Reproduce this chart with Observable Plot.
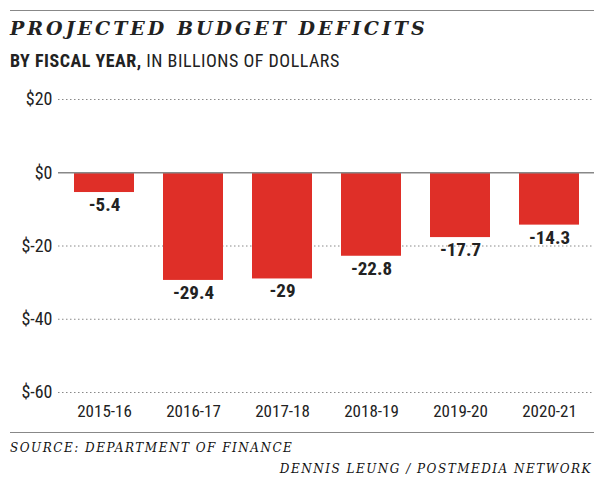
<!DOCTYPE html>
<html><head><meta charset="utf-8">
<script src="https://cdn.jsdelivr.net/npm/d3@7"></script>
<script src="https://cdn.jsdelivr.net/npm/@observablehq/plot@0.6"></script>
<style>
body{margin:0;background:#fff;width:604px;font-family:"Roboto Condensed","Liberation Sans Narrow","DejaVu Sans Condensed","Roboto",sans-serif;color:#222;}
#wrap{position:relative;width:604px;height:487px;}
.rule{position:absolute;left:10px;width:584px;height:0;border-top:1px solid #888;}
#title{position:absolute;left:10px;top:17px;font-family:"DejaVu Serif",serif;font-weight:bold;font-style:italic;font-size:19px;letter-spacing:3px;color:#222;white-space:nowrap;}
#sub{position:absolute;left:10px;top:50px;font-size:18px;letter-spacing:0.5px;color:#222;white-space:nowrap;}
#chart{position:absolute;left:0;top:80px;}
#source{position:absolute;left:10px;top:441px;font-family:"DejaVu Serif",serif;font-style:italic;font-size:12px;letter-spacing:1.5px;color:#111;white-space:nowrap;}
#credit{position:absolute;right:12px;top:462px;font-family:"DejaVu Serif",serif;font-style:italic;font-size:12px;letter-spacing:1.5px;color:#111;white-space:nowrap;}
</style></head>
<body>
<div id="wrap">
<div class="rule" style="top:10px"></div>
<div id="title">PROJECTED BUDGET DEFICITS</div>
<div id="sub"><b>BY FISCAL YEAR,</b> IN BILLIONS OF DOLLARS</div>
<div id="chart"></div>
<div class="rule" style="top:432px"></div>
<div id="source">SOURCE: DEPARTMENT OF FINANCE</div>
<div id="credit">DENNIS LEUNG / POSTMEDIA NETWORK</div>
</div>
<script>
const years = ["2015-16","2016-17","2017-18","2018-19","2019-20","2020-21"];
const deficits = [-5.4,-29.4,-29,-22.8,-17.7,-14.3];
const yTicks = [20,0,-20,-40,-60];

const data = years.map((y,i)=>({year:y,value:deficits[i]}));
const font = '"Roboto Condensed","Liberation Sans Narrow","DejaVu Sans Condensed","Roboto",sans-serif';

const chart = Plot.plot({
  width:604, height:345,
  marginLeft:58, marginRight:10, marginTop:19, marginBottom:33,
  style:{fontFamily:font, fontSize:"17px", color:"#222", background:"transparent"},
  x:{domain:years, paddingInner:0.33, paddingOuter:0.17, label:null, tickSize:0, tickPadding:12},
  y:{domain:[-60,20], ticks:yTicks, label:null, tickSize:0, tickPadding:6, tickFormat:d=>"$"+d},
  marks:[
    Plot.axisY({ticks:yTicks, tickFormat:d=>"$"+d, tickSize:0, tickPadding:6, fontSize:18, label:null}),
    Plot.ruleY(yTicks.filter(d=>d!==0), {stroke:"#888", strokeDasharray:"1.5,2.5", strokeWidth:1}),
    Plot.barY(data, {x:"year", y:"value", fill:"#df2f28"}),
    Plot.ruleY([0], {stroke:"#888", strokeWidth:1.5}),
    Plot.text(data, {x:"year", y:"value", text:d=>String(d.value), lineAnchor:"top", dy:5, fontWeight:"bold", fontSize:19, fill:"#222"})
  ]
});
document.getElementById("chart").appendChild(chart);
</script>
</body></html>
